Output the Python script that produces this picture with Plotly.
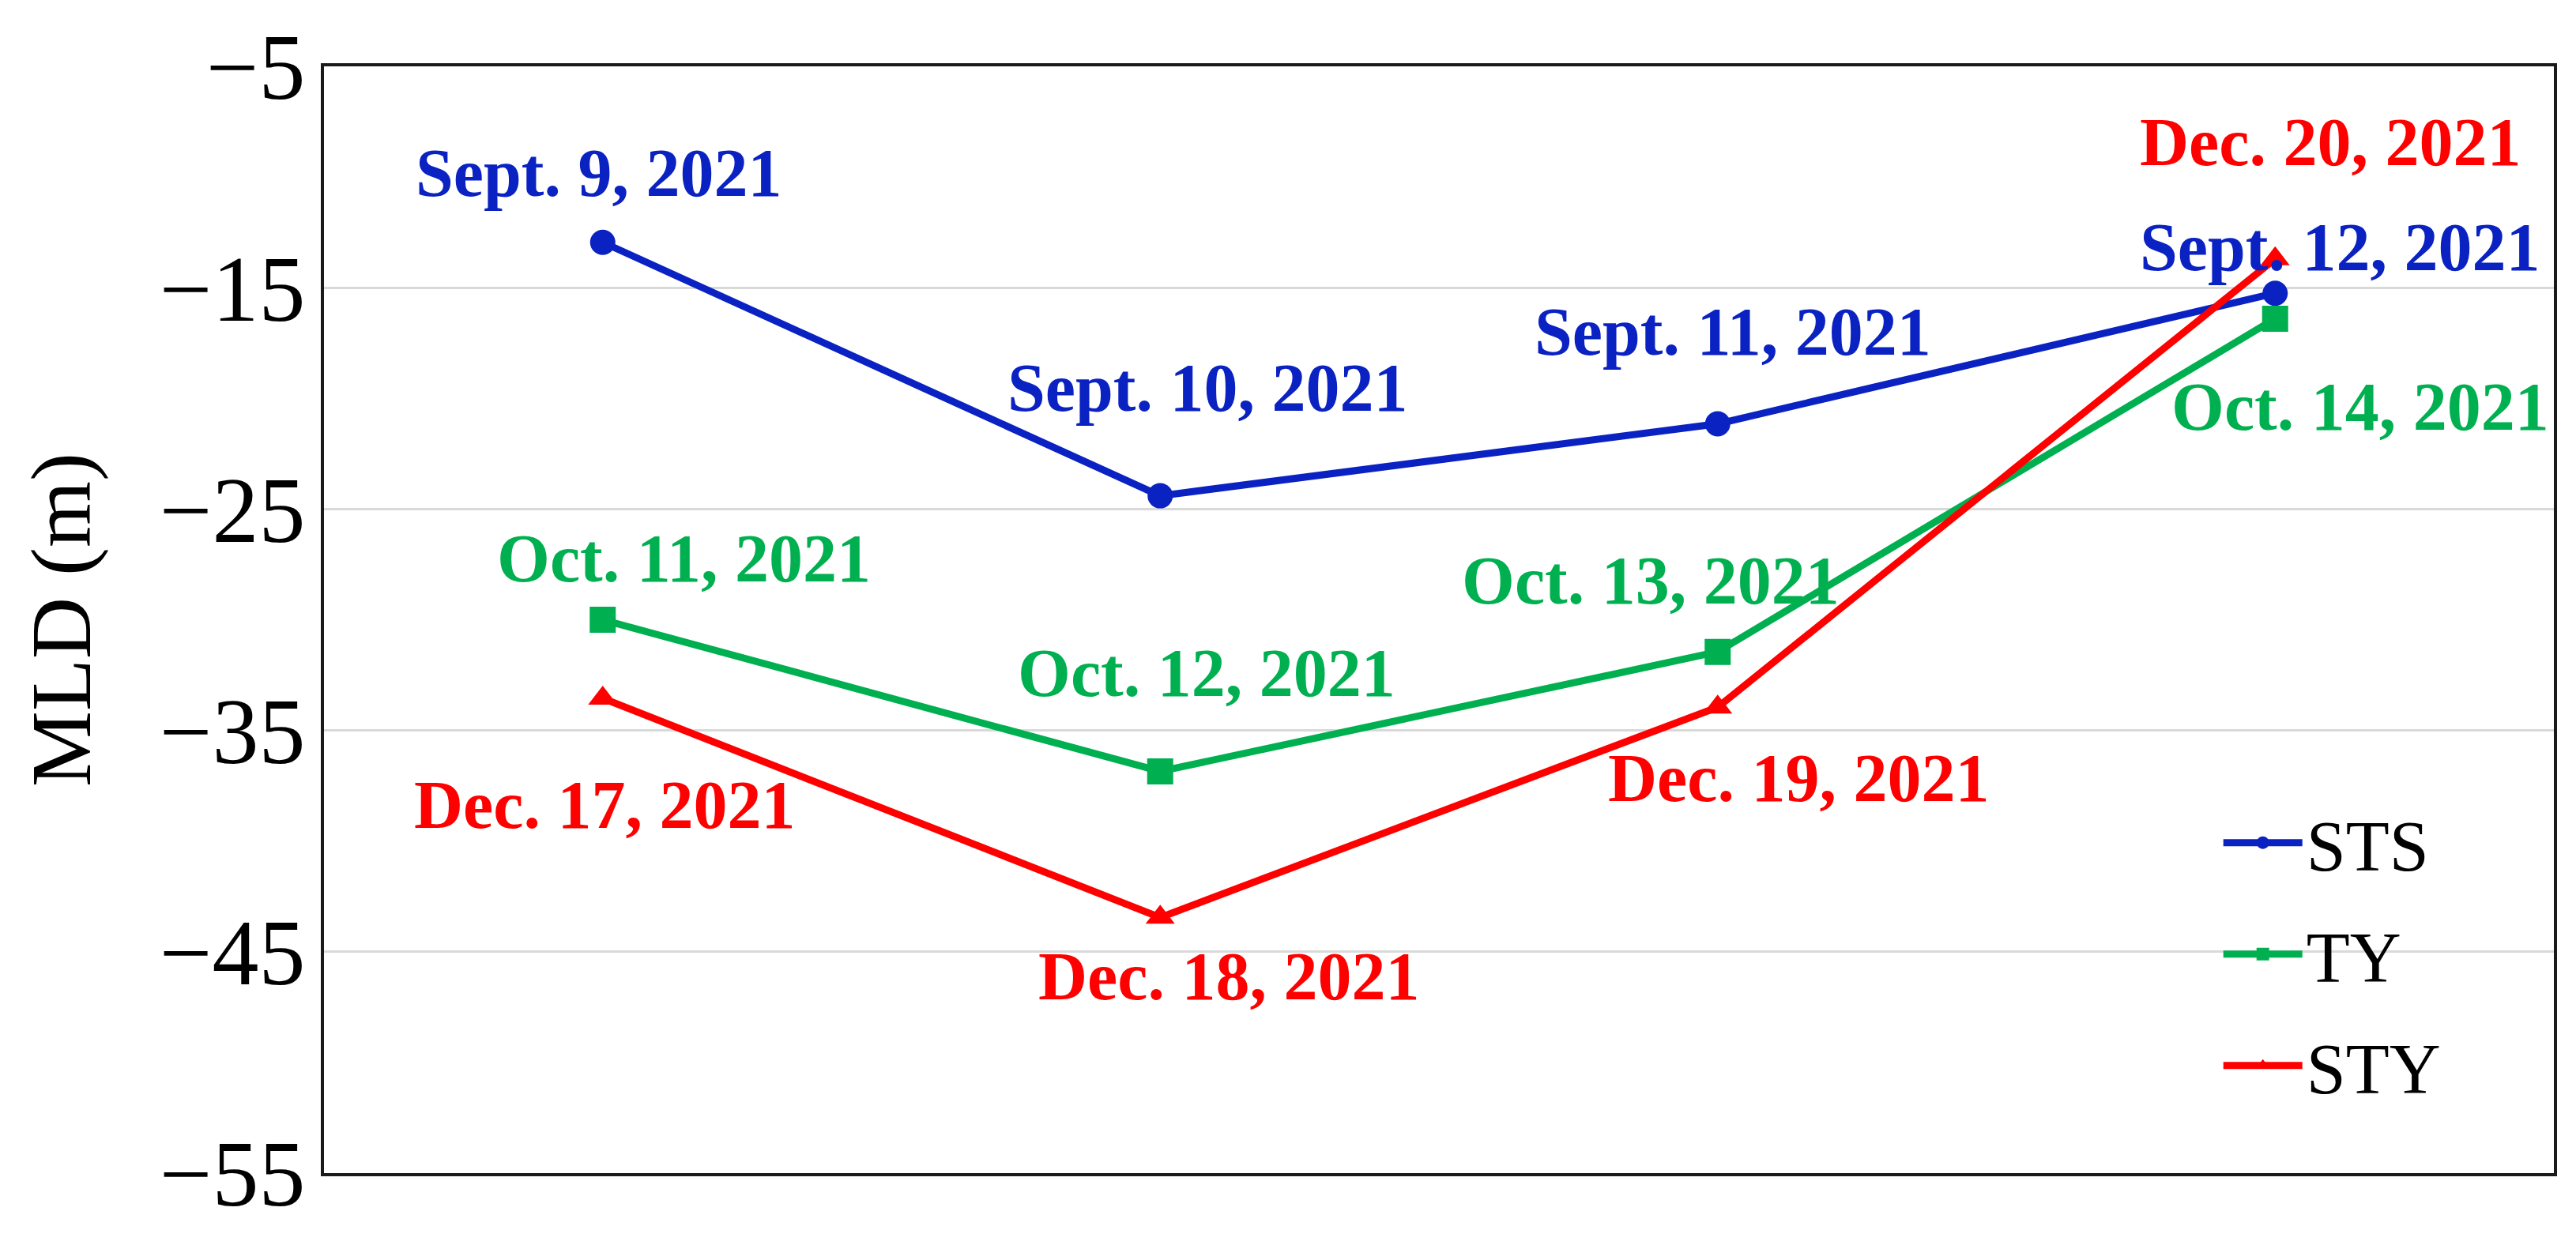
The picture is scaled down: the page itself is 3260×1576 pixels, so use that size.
import plotly.graph_objects as go

# four sampling stages per event, plotted at evenly spaced positions
stage = [0, 1, 2, 3]

sts_mld = [-12.95, -24.4, -21.15, -15.25]
ty_mld = [-30.0, -36.85, -31.45, -16.4]
sty_mld = [-33.55, -43.45, -33.95, -13.7]

sts_dates = ["Sept. 9, 2021", "Sept. 10, 2021", "Sept. 11, 2021", "Sept. 12, 2021"]
ty_dates = ["Oct. 11, 2021", "Oct. 12, 2021", "Oct. 13, 2021", "Oct. 14, 2021"]
sty_dates = ["Dec. 17, 2021", "Dec. 18, 2021", "Dec. 19, 2021", "Dec. 20, 2021"]

ytick_vals = [-55, -45, -35, -25, -15, -5]
ytick_text = ["\u221255", "\u221245", "\u221235", "\u221225", "\u221215", "\u22125"]

BLUE = "#0B22C3"
GREEN = "#00B050"
RED = "#FF0000"
SERIF = "Liberation Serif"

# name, values, labels, colour, marker, marker size, label offsets (px)
series = [
    ("STS", sts_mld, sts_dates, BLUE, "circle", 32,
     [(-5, 88), (60, 137), (19, 117), (82, 58)]),
    ("TY", ty_mld, ty_dates, GREEN, "square", 33,
     [(103, 78), (59, 124), (-85, 90), (108, -112)]),
    ("STY", sty_mld, sty_dates, RED, "triangle-up", 32,
     [(2, -135), (87, -75), (102, -90), (70, 148)]),
]

fig = go.Figure()
for name, y, dates, color, sym, msize, shifts in series:
    fig.add_trace(go.Scatter(
        x=stage, y=y, name=name, mode="lines+markers",
        legendgroup=name,
        line=dict(color=color, width=9),
        marker=dict(symbol=sym, size=msize, color=color),
    ))
    for xi, yi, txt, (dx, dy) in zip(stage, y, dates, shifts):
        fig.add_annotation(x=xi, y=yi, text=txt, showarrow=False,
                           xshift=dx, yshift=dy,
                           xanchor="center", yanchor="middle",
                           font=dict(family=SERIF, size=86, color=color,
                                     weight="bold"))

fig.update_xaxes(range=[-0.5, 3.5], showticklabels=False, showgrid=False,
                 zeroline=False, showline=True, mirror=True,
                 linecolor="#1a1a1a", linewidth=4, ticks="")
fig.update_yaxes(range=[-55, -5], tickvals=ytick_vals, ticktext=ytick_text,
                 showgrid=True, gridcolor="#d9d9d9", gridwidth=3,
                 zeroline=False, showline=True, mirror=True,
                 linecolor="#1a1a1a", linewidth=4, ticks="",
                 ticklabelstandoff=-4,
                 tickfont=dict(family=SERIF, size=118, color="black"),
                 title=dict(text="MLD (m)", standoff=52,
                            font=dict(family=SERIF, size=108, color="black")))
# page body adds an 8px offset, so the figure is 8px smaller each way
fig.update_layout(
    width=3252, height=1568,
    margin=dict(l=402, r=28, t=70, b=91),
    plot_bgcolor="white", paper_bgcolor="white",
    legend=dict(x=0.85, y=0.345, xanchor="left", yanchor="top",
                traceorder="grouped", tracegroupgap=21, itemwidth=100,
                bgcolor="rgba(0,0,0,0)",
                font=dict(family=SERIF, size=90, color="black")),
)

fig.write_html("out.html")
